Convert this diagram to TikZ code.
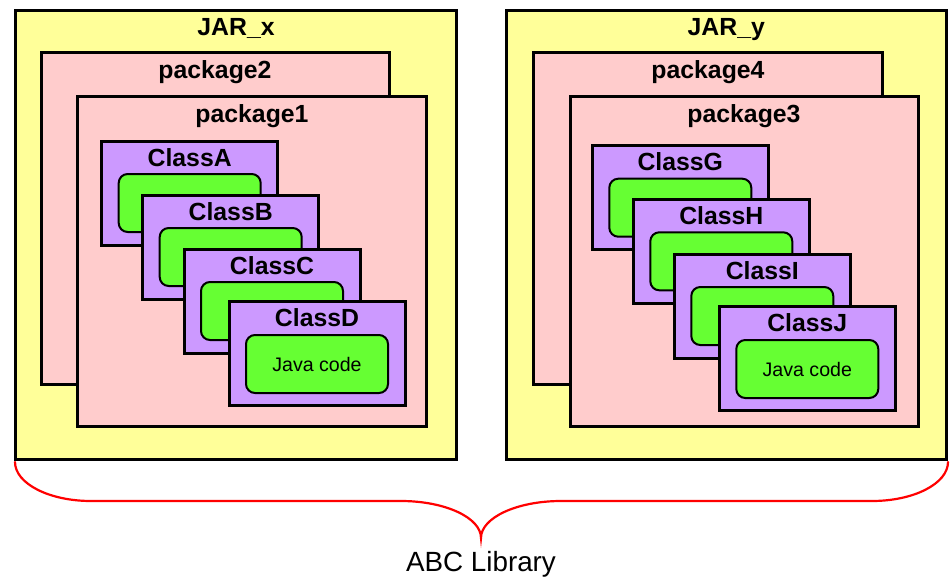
\documentclass[tikz,border=0pt]{standalone}
\usepackage{fontspec}
\setmainfont{Liberation Sans}
\usepackage{tikz}
\usetikzlibrary{calc}
\definecolor{jaryellow}{RGB}{255,255,153}
\definecolor{pkgpink}{RGB}{255,204,204}
\definecolor{clspurple}{RGB}{204,153,255}
\definecolor{codegreen}{RGB}{102,255,51}
\tikzstyle{every path}=[line join=miter]
\tikzstyle{jarbox}=[draw,line width=3pt,fill=jaryellow]
\tikzstyle{pkgbox}=[draw,line width=3pt,fill=pkgpink]
\tikzstyle{clsbox}=[draw,line width=3pt,fill=clspurple]
\tikzstyle{codebox}=[draw,line width=2pt,fill=codegreen,rounded corners=9pt]
\tikzstyle{boldlbl}=[anchor=base,inner sep=0pt,font=\bfseries\fontsize{24.8}{28}\selectfont]
\tikzstyle{codelbl}=[anchor=base,inner sep=0pt,font=\fontsize{19.6}{22}\selectfont]

\begin{document}
\begin{tikzpicture}[x=1pt,y=-1pt]
\useasboundingbox (0,0) rectangle (951,576);

% JAR_x
\draw [jarbox] (15.7,10) rectangle (456,459);
\node [boldlbl] (jarx) at (236,35) {JAR\_x};
\draw [pkgbox] (41.7,52.7) rectangle (389,384);
\node [boldlbl] (pkg2) at (215,78.5) {package2};
\draw [pkgbox] (77.7,96) rectangle (426,426.7);
\node [boldlbl] (pkg1) at (252,122) {package1};
\draw [clsbox] (101.7,141) rectangle (277.7,245);
\node [boldlbl] (clsA) at (189.7,166) {ClassA};
\draw [codebox] (118.7,174) rectangle (260.7,232);
\draw [clsbox] (142.7,195) rectangle (318.7,299);
\node [boldlbl] (clsB) at (230.7,220) {ClassB};
\draw [codebox] (159.7,228) rectangle (301.7,286);
\draw [clsbox] (184,249) rectangle (360,353);
\node [boldlbl] (clsC) at (272,274) {ClassC};
\draw [codebox] (201,282) rectangle (343,340);
\draw [clsbox] (229,301) rectangle (405,405);
\node [boldlbl] (clsD) at (317,326) {ClassD};
\draw [codebox] (246,335) rectangle (388,393);
\node [codelbl] (codeD) at (317,371) {Java code};

% JAR_y
\draw [jarbox] (506.7,10) rectangle (946,459);
\node [boldlbl] (jary) at (726.3,35) {JAR\_y};
\draw [pkgbox] (533.3,52.7) rectangle (882.3,384);
\node [boldlbl] (pkg4) at (708,78.5) {package4};
\draw [pkgbox] (570,96) rectangle (918.3,426.7);
\node [boldlbl] (pkg3) at (744,122) {package3};
\draw [clsbox] (592.3,145.7) rectangle (768.3,249.7);
\node [boldlbl] (clsG) at (680.3,170.7) {ClassG};
\draw [codebox] (609.3,178.7) rectangle (751.3,236.7);
\draw [clsbox] (633.3,199.3) rectangle (809.3,303.3);
\node [boldlbl] (clsH) at (721.3,224.3) {ClassH};
\draw [codebox] (650.3,232.3) rectangle (792.3,290.3);
\draw [clsbox] (674.3,254) rectangle (850.3,358);
\node [boldlbl] (clsI) at (762.3,279) {ClassI};
\draw [codebox] (691.3,287) rectangle (833.3,345);
\draw [clsbox] (719.3,306) rectangle (895.3,410);
\node [boldlbl] (clsJ) at (807.3,331) {ClassJ};
\draw [codebox] (736.3,340) rectangle (878.3,398);
\node [codelbl] (codeJ) at (807.3,376) {Java code};

% brace
\draw [red,line width=2.2pt,line cap=round] (15,462) .. controls (15,483.5) and (49,501) .. (91,501) -- (401,501)
  .. controls (445,501) and (481,517.6) .. (481,538) .. controls (481,517.6) and (517,501) .. (561,501)
  -- (872,501) .. controls (914,501) and (948,483.5) .. (948,462);
\node [anchor=base,inner sep=0pt,font=\fontsize{27.8}{32}\selectfont] (lib) at (481,571) {ABC Library};
\end{tikzpicture}
\end{document}
